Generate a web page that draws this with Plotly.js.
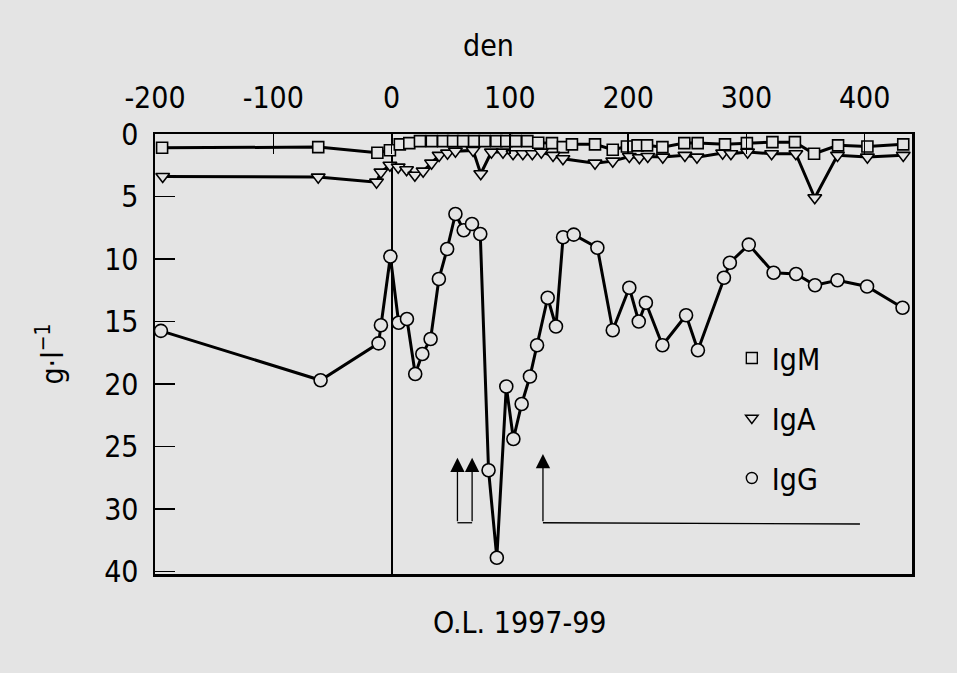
<!DOCTYPE html>
<html>
<head>
<meta charset="utf-8">
<script src="https://cdn.plot.ly/plotly-3.0.1.min.js"></script>
<style>
html,body{margin:0;padding:0;background:#e4e4e4;}
#chart{width:957px;height:673px;}
</style>
</head>
<body>
<div id="chart"></div>
<script>
// ---- data (day, g·l-1) ----
const igmDay = [-194,-62,-12,-1.4,7,15,24,34,43.6,52,60.5,69.8,78.7,88.6,97,105,114.8,124,135.6,144.9,152.5,172,187,199,208,216,229,247.5,258.8,281.9,300.4,322,341,357.2,377.5,402.3,432.6];
const igmVal = [1.1,1.05,1.5,1.3,0.83,0.73,0.57,0.57,0.57,0.57,0.57,0.57,0.57,0.57,0.57,0.57,0.57,0.7,0.73,1.05,0.83,0.83,1.26,1.0,0.91,0.91,1.05,0.73,0.73,0.83,0.73,0.65,0.65,1.58,0.91,1.0,0.83];

const igaDay = [-193.5,-62,-12.7,-9,-1.4,5.6,12.7,19.7,26.7,33.8,40.2,47.3,54,68.9,75.4,84.4,94.2,102.7,111,119,126.6,136.5,144.9,172,187,201,209.5,216.6,229.3,248,258.2,279.9,286.9,301,321.3,341.8,357.8,377,402.3,432.6];
const igaVal = [3.4,3.45,3.85,3.05,2.5,2.65,2.86,3.3,2.97,2.33,1.71,1.53,1.37,1.31,3.18,1.45,1.45,1.58,1.58,1.58,1.45,1.71,1.98,2.33,2.17,1.8,1.9,1.8,1.85,1.71,1.85,1.53,1.58,1.45,1.58,1.58,5.1,1.71,1.85,1.71];

const iggDay = [-195,-60,-11,-9,-1,6,13,20,26,33,40,47,54,61,68,75,82,89,97,103,110,117,123,132,139,145,154,174,187,201,209,215,229,249,259,281,286,302,323,342,358,377,402,432];
const iggVal = [15.75,19.7,16.75,15.3,9.8,15.1,14.8,19.2,17.6,16.4,11.6,9.2,6.4,7.7,7.2,8.0,26.9,33.9,20.2,24.4,21.6,19.4,16.9,13.1,15.4,8.26,8.05,9.1,15.7,12.3,15.0,13.5,16.9,14.5,17.3,11.5,10.3,8.85,11.1,11.2,12.1,11.7,12.2,13.9];

const seriesNames = ['IgM','IgA','IgG'];
const seriesSymbols = ['square','triangle-down','circle'];
const xTickVals = [-200,-100,0,100,200,300,400];
const xTickText = ['-200','-100','0','100','200','300','400'];
const yTickVals = [0,5,10,15,20,25,30,35];
const yTickText = ['0','5','10','15','20','25','30','40'];

// annotation arrows (day, value)
const arrowDays = [55.7,68.1,128];
const arrowTips = [25.9,25.9,25.6];
const arrowBase = 31.1;
const bracketDays = [55.7,68.1];
const baseLineDays = [128,396];

const xTitle = 'den';
const yTitle = 'g·l<sup>−1</sup>';
const bottomTitle = 'O.L. 1997-99';

const FONT = '"DejaVu Sans Condensed","Liberation Sans Narrow","Liberation Sans",Arial,sans-serif';
const BG = '#e4e4e4';

function tr(name, x, y, symbol, size){
  return {
    type:'scatter', mode:'lines+markers', name:name, x:x, y:y,
    showlegend:false, cliponaxis:false,
    line:{color:'#000', width:3},
    marker:{symbol:symbol, size:size, color:BG, line:{color:'#000', width:1.6}}
  };
}
function legendOnly(name, symbol){
  return {
    type:'scatter', mode:'markers', name:name, x:[null], y:[null],
    showlegend:true, legendgroup:name,
    marker:{symbol:symbol, size:11, color:BG, line:{color:'#000', width:1.4}}
  };
}

const data = [
  tr(seriesNames[0], igmDay, igmVal, seriesSymbols[0], 11),
  tr(seriesNames[1], igaDay, igaVal, seriesSymbols[1], 12),
  tr(seriesNames[2], iggDay, iggVal, seriesSymbols[2], 13),
  legendOnly(seriesNames[0], seriesSymbols[0]),
  legendOnly(seriesNames[1], seriesSymbols[1]),
  legendOnly(seriesNames[2], seriesSymbols[2])
];

const annotations = arrowDays.map((d,i)=>({
  x:d, y:arrowTips[i], xref:'x', yref:'y',
  ax:d, ay:arrowBase, axref:'x', ayref:'y',
  text:'', showarrow:true, arrowhead:2, arrowsize:2.2, arrowwidth:1.3, arrowcolor:'#000', standoff:0
}));
annotations.push({
  text:xTitle, xref:'paper', yref:'paper', x:0.44, y:1, yanchor:'middle', yshift:89,
  showarrow:false, font:{family:FONT, size:30, color:'#000'}
});
annotations.push({
  text:bottomTitle, xref:'paper', yref:'paper', x:0.482, y:0, yanchor:'middle', yshift:-48,
  showarrow:false, font:{family:FONT, size:30, color:'#000'}
});

const shapes = [
  {type:'line', xref:'x', yref:'y', x0:bracketDays[0], x1:bracketDays[1], y0:arrowBase, y1:arrowBase, line:{color:'#000', width:1.3}},
  {type:'line', xref:'x', yref:'y', x0:baseLineDays[0], x1:baseLineDays[1], y0:arrowBase, y1:arrowBase+0.1, line:{color:'#000', width:1.3}}
];

const layout = {
  width:957, height:673,
  paper_bgcolor:BG, plot_bgcolor:BG,
  margin:{l:155, r:45, t:134, b:99, pad:0},
  font:{family:FONT, size:30, color:'#000'},
  showlegend:true,
  legend:{x:0.762, y:0.55, xanchor:'left', yanchor:'top', bgcolor:'rgba(0,0,0,0)',
          font:{family:FONT, size:30, color:'#000'}, tracegroupgap:18, itemsizing:'trace'},
  xaxis:{
    side:'top', range:[-200,440], tickvals:xTickVals, ticktext:xTickText,
    ticks:'inside', ticklen:20, tickwidth:1.5, tickcolor:'#000',
    showline:true, mirror:true, linecolor:'#000', linewidth:2.5,
    showgrid:false, zeroline:true, zerolinecolor:'#000', zerolinewidth:2,
    tickfont:{family:FONT, size:30, color:'#000'}, ticklabelstandoff:12
  },
  yaxis:{
    range:[35.2,0], tickvals:yTickVals, ticktext:yTickText,
    ticks:'inside', ticklen:20, tickwidth:1.5, tickcolor:'#000',
    showline:true, mirror:true, linecolor:'#000', linewidth:2.5,
    showgrid:false, zeroline:false,
    tickfont:{family:FONT, size:30, color:'#000'}, ticklabelstandoff:8,
    title:{text:yTitle, font:{family:FONT, size:30, color:'#000'}, standoff:32}
  },
  annotations:annotations,
  shapes:shapes
};

Plotly.newPlot('chart', data, layout, {displayModeBar:false, staticPlot:true});
</script>
</body>
</html>
